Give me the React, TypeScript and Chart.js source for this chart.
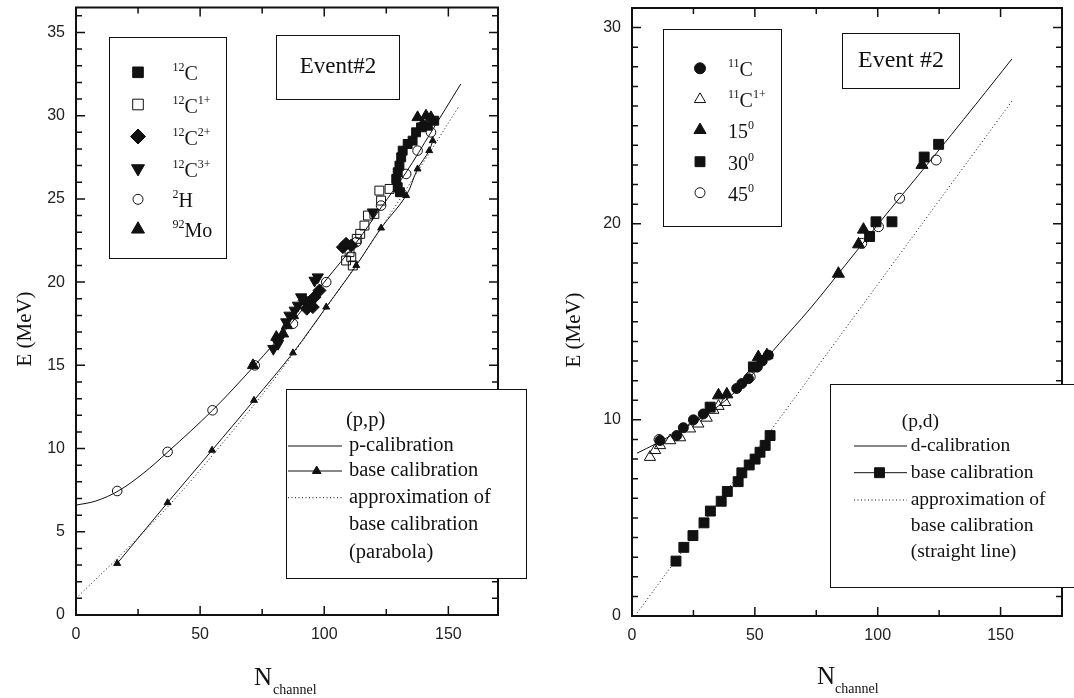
import React, { useEffect, useRef } from "react";
import { Chart, registerables } from "chart.js";
Chart.register(...registerables);

const SERIF = '"Liberation Serif", "Times New Roman", serif';
const SANS = '"Liberation Sans", Arial, sans-serif';
const INK = "#111";
const H = 698;

// ---------------- Left panel data: (p,p) ----------------
const L_X_LABELS = [0, 50, 100, 150];
const L_Y_LABELS = [0, 5, 10, 15, 20, 25, 30, 35];

const L_C12 = [[129.6, 25.7], [129.0, 26.2], [129.6, 26.6], [130.3, 27.0], [131.0, 27.5], [131.6, 27.9], [133.6, 28.3], [135.6, 28.5], [137.0, 29.0], [139.0, 29.3], [141.7, 29.4], [144.3, 29.7], [130.5, 25.4]];
const L_C12_1 = [[108.8, 21.3], [110.2, 21.8], [110.9, 21.5], [113.1, 22.6], [114.5, 22.9], [116.2, 23.4], [117.6, 24.0], [120.2, 24.1], [122.2, 25.5], [122.9, 24.9], [126.3, 25.6], [111.5, 21.0]];
const L_C12_2 = [[92.1, 18.9], [94.1, 18.8], [95.4, 18.5], [96.1, 19.1], [98.1, 19.5], [107.5, 22.1], [108.8, 22.3], [110.9, 22.2], [93.0, 18.4]];
const L_C12_3 = [[79.5, 16.0], [81.4, 16.3], [82.0, 16.6], [84.7, 17.6], [86.0, 18.0], [88.1, 18.3], [89.4, 18.6], [90.7, 19.1], [96.1, 20.1], [97.4, 20.3], [119.6, 24.2]];
const L_H2 = [[16.6, 7.45], [36.9, 9.8], [55.0, 12.3], [72.0, 15.0], [87.4, 17.5], [100.8, 20.0], [112.9, 22.4], [122.9, 24.6], [133.0, 26.5], [137.6, 27.9], [143.0, 29.0]];
const L_MO92 = [[71.3, 15.0], [80.7, 16.7], [83.4, 16.9], [85.0, 17.4], [87.4, 18.0], [137.6, 29.9], [139.6, 29.5], [141.0, 30.0], [143.0, 29.9]];
const L_BASE = [[16.6, 3.1], [36.9, 6.75], [54.8, 9.9], [71.7, 12.9], [87.4, 15.75], [100.8, 18.5], [112.9, 21.0], [122.9, 23.25], [133.0, 25.2], [137.6, 26.8], [142.3, 27.9], [143.7, 28.5]];
const L_PCAL = [[0, 6.6], [8, 6.85], [17, 7.45], [27, 8.5], [37, 9.8], [55, 12.3], [72, 15.0], [86, 17.4], [100, 20.0], [113, 22.4], [123, 24.5], [133, 26.6], [143, 29.0], [155, 31.9]];
const L_PARABOLA = [[0, 1.0], [20, 3.9], [40, 7.0], [60, 10.5], [80, 14.2], [100, 18.3], [120, 22.6], [140, 27.2], [154.4, 30.6]];

// ---------------- Right panel data: (p,d) ----------------
const R_X_LABELS = [0, 50, 100, 150];
const R_Y_LABELS = [0, 10, 20, 30];

const R_C11 = [[11.4, 8.95], [18.2, 9.2], [20.9, 9.6], [25.0, 10.0], [29.0, 10.3], [42.6, 11.6], [44.7, 11.85], [47.4, 12.1], [51.0, 12.7], [53.0, 13.0], [55.5, 13.3]];
const R_C11_1 = [[7.3, 8.1], [9.4, 8.45], [11.4, 8.7], [15.5, 8.95], [19.6, 9.1], [23.6, 9.55], [27.0, 9.8], [30.4, 10.1], [33.1, 10.5], [35.2, 10.7], [37.9, 10.9]];
const R_DEG15 = [[35.2, 11.25], [38.6, 11.3], [51.4, 13.2], [54.9, 13.3], [84.0, 17.45], [92.2, 18.95], [94.2, 19.7], [118.0, 23.0]];
const R_DEG30 = [[31.8, 10.65], [49.4, 12.7], [96.7, 19.35], [99.3, 20.1], [105.8, 20.1], [118.9, 23.4], [124.8, 24.05]];
const R_DEG45 = [[11.0, 9.0], [48.1, 12.2], [93.5, 19.0], [100.3, 19.85], [108.9, 21.3], [123.8, 23.25]];
const R_BASE = [[17.9, 2.8], [21.1, 3.5], [24.8, 4.1], [29.3, 4.75], [31.9, 5.35], [36.3, 5.85], [38.8, 6.35], [43.2, 6.85], [44.7, 7.3], [47.7, 7.7], [50.1, 8.0], [52.1, 8.35], [54.2, 8.7], [56.2, 9.2]];
const R_DCAL = [[2, 8.3], [10, 8.8], [20, 9.5], [30, 10.25], [40, 11.2], [50, 12.45], [60, 13.9], [72, 15.6], [84, 17.45], [100, 19.95], [120, 23.0], [140, 26.1], [154.6, 28.4]];
const R_STRAIGHT = [[1.2, 0], [154.9, 26.3]];

type Seg = { t: string; sup?: boolean };
const L_LEGEND_LABELS: Seg[][] = [
  [{ t: "12", sup: true }, { t: "C" }],
  [{ t: "12", sup: true }, { t: "C" }, { t: "1+", sup: true }],
  [{ t: "12", sup: true }, { t: "C" }, { t: "2+", sup: true }],
  [{ t: "12", sup: true }, { t: "C" }, { t: "3+", sup: true }],
  [{ t: "2", sup: true }, { t: "H" }],
  [{ t: "92", sup: true }, { t: "Mo" }],
];
const R_LEGEND_LABELS: Seg[][] = [
  [{ t: "11", sup: true }, { t: "C" }],
  [{ t: "11", sup: true }, { t: "C" }, { t: "1+", sup: true }],
  [{ t: "15" }, { t: "0", sup: true }],
  [{ t: "30" }, { t: "0", sup: true }],
  [{ t: "45" }, { t: "0", sup: true }],
];

// ---------------- helpers ----------------
const pts = (a: number[][]) => a.map(([x, y]) => ({ x, y }));

function markerPath(ctx: CanvasRenderingContext2D, style: string, x: number, y: number, r: number, rot = 0) {
  if (style === "circle") {
    ctx.arc(x, y, r, 0, Math.PI * 2);
  } else if (style === "rect") {
    const s = r * Math.SQRT1_2;
    ctx.rect(x - s, y - s, 2 * s, 2 * s);
  } else if (style === "rectRot") {
    ctx.moveTo(x, y - r); ctx.lineTo(x + r, y); ctx.lineTo(x, y + r); ctx.lineTo(x - r, y); ctx.closePath();
  } else if (style === "triangle") {
    const d = rot === 180 ? -1 : 1;
    ctx.moveTo(x, y - d * r);
    ctx.lineTo(x + 0.866 * r, y + d * 0.5 * r);
    ctx.lineTo(x - 0.866 * r, y + d * 0.5 * r);
    ctx.closePath();
  }
}

function drawMarker(ctx: CanvasRenderingContext2D, m: any, x: number, y: number) {
  ctx.beginPath();
  markerPath(ctx, m.style, x, y, m.r, m.rot || 0);
  if (m.filled) { ctx.fillStyle = INK; ctx.fill(); }
  ctx.strokeStyle = INK; ctx.lineWidth = 1; ctx.stroke();
}

function drawRich(ctx: CanvasRenderingContext2D, segs: Seg[], x: number, y: number, size: number) {
  let cx = x;
  ctx.textAlign = "left";
  ctx.textBaseline = "alphabetic";
  ctx.fillStyle = INK;
  for (const s of segs) {
    const fs = s.sup ? Math.round(size * 0.6) : size;
    ctx.font = `${fs}px ${SERIF}`;
    ctx.fillText(s.t, cx, y - (s.sup ? size * 0.45 : 0));
    cx += ctx.measureText(s.t).width;
  }
}

function scatterSet(data: number[][], m: any) {
  return {
    data: pts(data),
    showLine: false,
    pointStyle: m.style,
    pointRadius: m.r,
    pointHoverRadius: m.r,
    pointRotation: m.rot || 0,
    backgroundColor: m.filled ? INK : "rgba(0,0,0,0)",
    borderColor: INK,
    pointBorderWidth: 1,
  };
}

function lineSet(data: number[][], dash: number[] = [], marker?: any) {
  return {
    data: pts(data),
    showLine: true,
    borderColor: INK,
    borderWidth: 1,
    borderDash: dash,
    tension: 0.35,
    pointStyle: marker ? marker.style : "circle",
    pointRadius: marker ? marker.r : 0,
    pointHoverRadius: marker ? marker.r : 0,
    backgroundColor: INK,
    pointBorderWidth: 1,
  };
}

// ---------------- marker styles ----------------
const M_L = {
  c12: { style: "rect", r: 6.3, filled: true },
  c12_1: { style: "rect", r: 6.3, filled: false },
  c12_2: { style: "rectRot", r: 6.5, filled: true },
  c12_3: { style: "triangle", r: 6.5, filled: true, rot: 180 },
  h2: { style: "circle", r: 4.8, filled: false },
  mo: { style: "triangle", r: 6.5, filled: true },
  base: { style: "triangle", r: 4, filled: true },
};
const M_L_LEG = [
  { style: "rect", r: 7.5, filled: true },
  { style: "rect", r: 7.5, filled: false },
  { style: "rectRot", r: 7.5, filled: true },
  { style: "triangle", r: 7.5, filled: true, rot: 180 },
  { style: "circle", r: 5, filled: false },
  { style: "triangle", r: 7.5, filled: true },
];
const M_R = {
  c11: { style: "circle", r: 5, filled: true },
  c11_1: { style: "triangle", r: 6.5, filled: false },
  d15: { style: "triangle", r: 7, filled: true },
  d30: { style: "rect", r: 7, filled: true },
  d45: { style: "circle", r: 5, filled: false },
  base: { style: "rect", r: 7, filled: true },
};
const M_R_LEG = [
  { style: "circle", r: 5.5, filled: true },
  { style: "triangle", r: 6.5, filled: false },
  { style: "triangle", r: 7, filled: true },
  { style: "rect", r: 7, filled: true },
  { style: "circle", r: 5, filled: false },
];

// ---------------- panel specs ----------------
const leftSpec = {
  width: 540,
  area: { l: 76, t: 7, r: 498, b: 615 },
  xMax: 170, yMax: 36.5, xMinor: 25, xMajor: 50, yMinor: 1, yMajor: 5,
  xLabels: L_X_LABELS, yLabels: L_Y_LABELS,
  datasets: [
    scatterSet(L_C12, M_L.c12),
    scatterSet(L_C12_1, M_L.c12_1),
    scatterSet(L_C12_2, M_L.c12_2),
    scatterSet(L_C12_3, M_L.c12_3),
    scatterSet(L_H2, M_L.h2),
    scatterSet(L_MO92, M_L.mo),
    lineSet(L_BASE, [], M_L.base),
    lineSet(L_PCAL),
    lineSet(L_PARABOLA, [1, 2.5]),
  ],
  yTitle: { x: 25, y: 329 },
  nTitle: { x: 254, y: 685, subX: 273 },
  markerBox: { x0: 109.5, y0: 37.5, x1: 226.5, y1: 258.5, mx: 138, tx: 172.5, rows: [72.3, 104.5, 136.5, 168.5, 199.3, 229.3], items: M_L_LEG, labels: L_LEGEND_LABELS, size: 20 },
  eventBox: { x0: 276.5, y0: 35.5, x1: 399.5, y1: 99.5, text: "Event#2", size: 23, cx: 338, cy: 67 },
  lineBox: {
    x0: 286.5, y0: 389.5, x1: 526.5, y1: 578.5, head: "(p,p)", headX: 346, sx0: 288, sx1: 342, mx: 316.7, tx: 349,
    rows: [421, 446, 471, 497.7, 525, 552.3],
    texts: ["p-calibration", "base calibration", "approximation of", "base calibration", "(parabola)"],
    marker: { style: "triangle", r: 5, filled: true }, size: 20.5,
  },
};

const rightSpec = {
  width: 534,
  area: { l: 92, t: 7, r: 522, b: 616 },
  xMax: 175, yMax: 31, xMinor: 25, xMajor: 50, yMinor: 1, yMajor: 10,
  xLabels: R_X_LABELS, yLabels: R_Y_LABELS,
  datasets: [
    scatterSet(R_C11, M_R.c11),
    scatterSet(R_C11_1, M_R.c11_1),
    scatterSet(R_DEG15, M_R.d15),
    scatterSet(R_DEG30, M_R.d30),
    scatterSet(R_DEG45, M_R.d45),
    scatterSet(R_BASE, M_R.base),
    lineSet(R_DCAL),
    lineSet(R_STRAIGHT, [1, 2.5]),
  ],
  yTitle: { x: 34, y: 330 },
  nTitle: { x: 277, y: 684, subX: 295 },
  markerBox: { x0: 123.5, y0: 29.5, x1: 241.5, y1: 226.5, mx: 160, tx: 188, rows: [68.3, 99.3, 130, 161.7, 192.7], items: M_R_LEG, labels: R_LEGEND_LABELS, size: 20 },
  eventBox: { x0: 302.5, y0: 33.5, x1: 419.5, y1: 88.5, text: "Event #2", size: 24, cx: 361, cy: 61 },
  lineBox: {
    x0: 290.5, y0: 384.5, x1: 560, y1: 587.5, head: "(p,d)", headX: 361.7, sx0: 314, sx1: 367, mx: 339.5, tx: 370.7,
    rows: [421.7, 446, 472.7, 500, 525.7, 552.3],
    texts: ["d-calibration", "base calibration", "approximation of", "base calibration", "(straight line)"],
    marker: { style: "rect", r: 7, filled: true }, size: 19.5,
  },
};

function decorPlugin(spec: any) {
  return {
    id: "decor",
    afterDraw(chart: any) {
      const ctx: CanvasRenderingContext2D = chart.ctx;
      const xs = chart.scales.x, ys = chart.scales.y;
      const { left: l, right: r, top: t, bottom: b } = chart.chartArea;
      ctx.save();
      // frame
      ctx.strokeStyle = INK;
      ctx.lineWidth = 2;
      ctx.strokeRect(l, t, r - l, b - t);
      // ticks
      ctx.lineWidth = 1.5;
      ctx.beginPath();
      for (let v = 0; v <= spec.xMax + 1e-9; v += spec.xMinor) {
        const px = xs.getPixelForValue(v);
        const len = v % spec.xMajor === 0 ? 9 : 6;
        ctx.moveTo(px, b); ctx.lineTo(px, b - len);
        ctx.moveTo(px, t); ctx.lineTo(px, t + len);
      }
      for (let v = 0; v <= spec.yMax + 1e-9; v += spec.yMinor) {
        const py = ys.getPixelForValue(v);
        const len = v % spec.yMajor === 0 ? 9 : 6;
        ctx.moveTo(l, py); ctx.lineTo(l + len, py);
        ctx.moveTo(r, py); ctx.lineTo(r - len, py);
      }
      ctx.stroke();

      // axis titles
      ctx.fillStyle = INK;
      ctx.save();
      ctx.translate(spec.yTitle.x, spec.yTitle.y);
      ctx.rotate(-Math.PI / 2);
      ctx.textAlign = "center";
      ctx.textBaseline = "middle";
      ctx.font = `21px ${SERIF}`;
      ctx.fillText("E (MeV)", 0, 0);
      ctx.restore();
      ctx.textAlign = "left";
      ctx.textBaseline = "alphabetic";
      ctx.font = `25px ${SERIF}`;
      ctx.fillText("N", spec.nTitle.x, spec.nTitle.y);
      ctx.font = `14px ${SERIF}`;
      ctx.fillText("channel", spec.nTitle.subX, spec.nTitle.y + 9);

      // marker legend box
      const mb = spec.markerBox;
      ctx.fillStyle = "#fff";
      ctx.fillRect(mb.x0, mb.y0, mb.x1 - mb.x0, mb.y1 - mb.y0);
      ctx.strokeStyle = INK; ctx.lineWidth = 1;
      ctx.strokeRect(mb.x0, mb.y0, mb.x1 - mb.x0, mb.y1 - mb.y0);
      mb.rows.forEach((ry: number, i: number) => {
        drawMarker(ctx, mb.items[i], mb.mx, ry);
        drawRich(ctx, mb.labels[i], mb.tx, ry + 8, mb.size);
      });

      // event box
      const eb = spec.eventBox;
      ctx.fillStyle = "#fff";
      ctx.fillRect(eb.x0, eb.y0, eb.x1 - eb.x0, eb.y1 - eb.y0);
      ctx.strokeStyle = INK; ctx.lineWidth = 1;
      ctx.strokeRect(eb.x0, eb.y0, eb.x1 - eb.x0, eb.y1 - eb.y0);
      ctx.fillStyle = INK;
      ctx.font = `${eb.size}px ${SERIF}`;
      ctx.textAlign = "center";
      ctx.textBaseline = "middle";
      ctx.fillText(eb.text, eb.cx, eb.cy);

      // line legend box
      const lb = spec.lineBox;
      ctx.fillStyle = "#fff";
      ctx.fillRect(lb.x0, lb.y0, lb.x1 - lb.x0, lb.y1 - lb.y0);
      ctx.strokeStyle = INK; ctx.lineWidth = 1;
      ctx.strokeRect(lb.x0, lb.y0, lb.x1 - lb.x0, lb.y1 - lb.y0);
      ctx.fillStyle = INK;
      ctx.font = `${lb.size}px ${SERIF}`;
      ctx.textAlign = "left";
      ctx.textBaseline = "middle";
      ctx.fillText(lb.head, lb.headX, lb.rows[0]);
      lb.texts.forEach((txt: string, i: number) => ctx.fillText(txt, lb.tx, lb.rows[i + 1]));
      // samples
      ctx.lineWidth = 1;
      ctx.beginPath();
      ctx.moveTo(lb.sx0, lb.rows[1]); ctx.lineTo(lb.sx1, lb.rows[1]);
      ctx.moveTo(lb.sx0, lb.rows[2]); ctx.lineTo(lb.sx1, lb.rows[2]);
      ctx.stroke();
      drawMarker(ctx, lb.marker, lb.mx, lb.rows[2]);
      ctx.setLineDash([1, 2.5]);
      ctx.beginPath();
      ctx.moveTo(lb.sx0, lb.rows[3]); ctx.lineTo(lb.sx1, lb.rows[3]);
      ctx.stroke();
      ctx.setLineDash([]);
      ctx.restore();
    },
  };
}

function buildConfig(spec: any): any {
  const a = spec.area;
  const tickFont = { family: SANS, size: 16 };
  return {
    type: "scatter",
    data: { datasets: spec.datasets },
    options: {
      animation: false,
      responsive: false,
      events: [],
      layout: { padding: { left: 0, top: a.t, right: spec.width - a.r, bottom: 0 } },
      plugins: { legend: { display: false }, tooltip: { enabled: false } },
      scales: {
        x: {
          type: "linear", position: "bottom", min: 0, max: spec.xMax,
          grid: { display: false, drawTicks: false }, border: { display: false },
          afterBuildTicks: (s: any) => { s.ticks = spec.xLabels.map((v: number) => ({ value: v })); },
          afterFit: (s: any) => { s.height = H - a.b; s.paddingLeft = 0; s.paddingRight = 0; },
          ticks: { font: tickFont, color: "#222", padding: 10, autoSkip: false, maxRotation: 0, callback: (v: any) => String(v) },
        },
        y: {
          type: "linear", position: "left", min: 0, max: spec.yMax,
          grid: { display: false, drawTicks: false }, border: { display: false },
          afterBuildTicks: (s: any) => { s.ticks = spec.yLabels.map((v: number) => ({ value: v })); },
          afterFit: (s: any) => { s.width = a.l; s.paddingTop = 0; s.paddingBottom = 0; },
          ticks: { font: tickFont, color: "#222", padding: 11, autoSkip: false, callback: (v: any) => String(v) },
        },
      },
    },
    plugins: [decorPlugin(spec)],
  };
}

function Panel({ spec, left }: { spec: any; left: number }) {
  const ref = useRef<HTMLCanvasElement>(null);
  useEffect(() => {
    const chart = new Chart(ref.current as HTMLCanvasElement, buildConfig(spec));
    return () => chart.destroy();
  }, [spec]);
  return (
    <canvas
      ref={ref}
      width={spec.width}
      height={H}
      style={{ position: "absolute", left, top: 0, width: spec.width, height: H }}
    />
  );
}

export default function App() {
  return (
    <div style={{ position: "fixed", left: 0, top: 0, width: 1074, height: H, background: "#fff", overflow: "hidden" }}>
      <Panel spec={leftSpec} left={0} />
      <Panel spec={rightSpec} left={540} />
    </div>
  );
}
